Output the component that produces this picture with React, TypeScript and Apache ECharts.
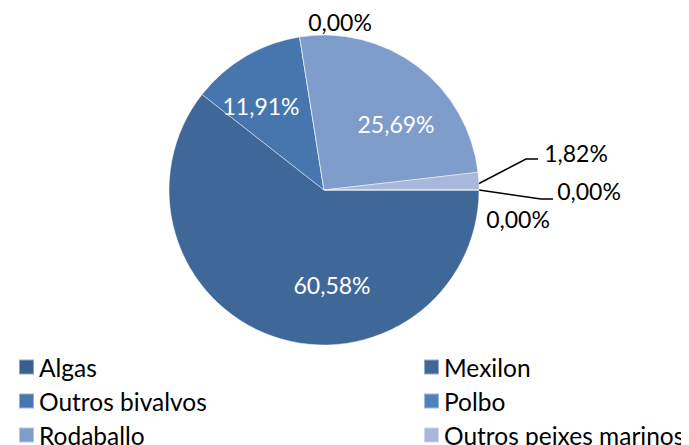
import React, { useEffect, useRef } from "react";
import * as echarts from "echarts";

const categories = [
  "Algas",
  "Mexilon",
  "Outros bivalvos",
  "Polbo",
  "Rodaballo",
  "Outros peixes marinos",
  "Outros",
];
const values = [0.0, 60.58, 11.91, 0.0, 25.69, 1.82, 0.0];
const legendNames = categories.slice(0, 6);
const colors = ["#3A5F8F", "#3F6899", "#4775AE", "#4F81BD", "#7F9DCB", "#A8B8DA", "#C0CCE6"];

// page offset from body margin
const OFF = 8;
// label anchor positions in page pixels (layout only)
const labelLayouts: any[] = [
  { x: 518, y: 219 },
  { x: 332, y: 285 },
  { x: 261, y: 106 },
  { x: 340, y: 22 },
  { x: 396, y: 124 },
  { x: 576, y: 153, line: [[478, 184], [526, 159], [538, 159]] },
  { x: 589, y: 191, line: [[479, 190], [541, 199], [553, 199]] },
];
const insideIdx = [1, 2, 4];

export default function App() {
  const ref = useRef<HTMLDivElement>(null);
  useEffect(() => {
    if (!ref.current) return;
    const chart = echarts.init(ref.current, null, { renderer: "svg" });
    const font = "Lato, 'Open Sans', sans-serif";
    chart.setOption({
      animation: false,
      backgroundColor: "#ffffff",
      legend: {
        data: legendNames.map((name, i) => ({
          name,
          textStyle: { width: i % 2 === 0 ? 384 : 250 },
        })),
        left: 18 - OFF,
        top: 350 - OFF,
        width: 679,
        padding: 0,
        orient: "horizontal",
        itemWidth: 15,
        itemHeight: 15,
        itemGap: 0,
        icon: "rect",
        textStyle: {
          fontFamily: font,
          fontSize: 24.5,
          color: "#000",
          height: 34,
          lineHeight: 34,
        },
      },
      series: [
        {
          type: "pie",
          center: [324 - OFF, 190 - OFF],
          radius: 155,
          startAngle: 0,
          clockwise: true,
          avoidLabelOverlap: false,
          minShowLabelAngle: 0,
          itemStyle: { borderColor: "rgba(255,255,255,0.45)", borderWidth: 1 },
          emphasis: { disabled: true },
          data: categories.map((name, i) => ({
            name,
            value: values[i],
            itemStyle: { color: colors[i] },
            label: {
              show: true,
              position: insideIdx.includes(i) ? "inside" : "outside",
              color: insideIdx.includes(i) ? "#ffffff" : "#000000",
            },
            labelLine: { show: !!labelLayouts[i].line, lineStyle: { color: "#000", width: 1.5 } },
          })),
          label: {
            fontFamily: font,
            fontSize: 23,
            formatter: (p: any) => p.value.toFixed(2).replace(".", ",") + "%",
          },
          labelLayout: (p: any) => {
            const l = labelLayouts[p.dataIndex];
            const o: any = { x: l.x - OFF, y: l.y - OFF, align: "center", verticalAlign: "middle" };
            if (l.line) o.labelLinePoints = l.line.map((pt: number[]) => [pt[0] - OFF, pt[1] - OFF]);
            return o;
          },
        },
      ],
    });
    return () => chart.dispose();
  }, []);
  return <div ref={ref} style={{ width: 689, height: 445 }} />;
}
